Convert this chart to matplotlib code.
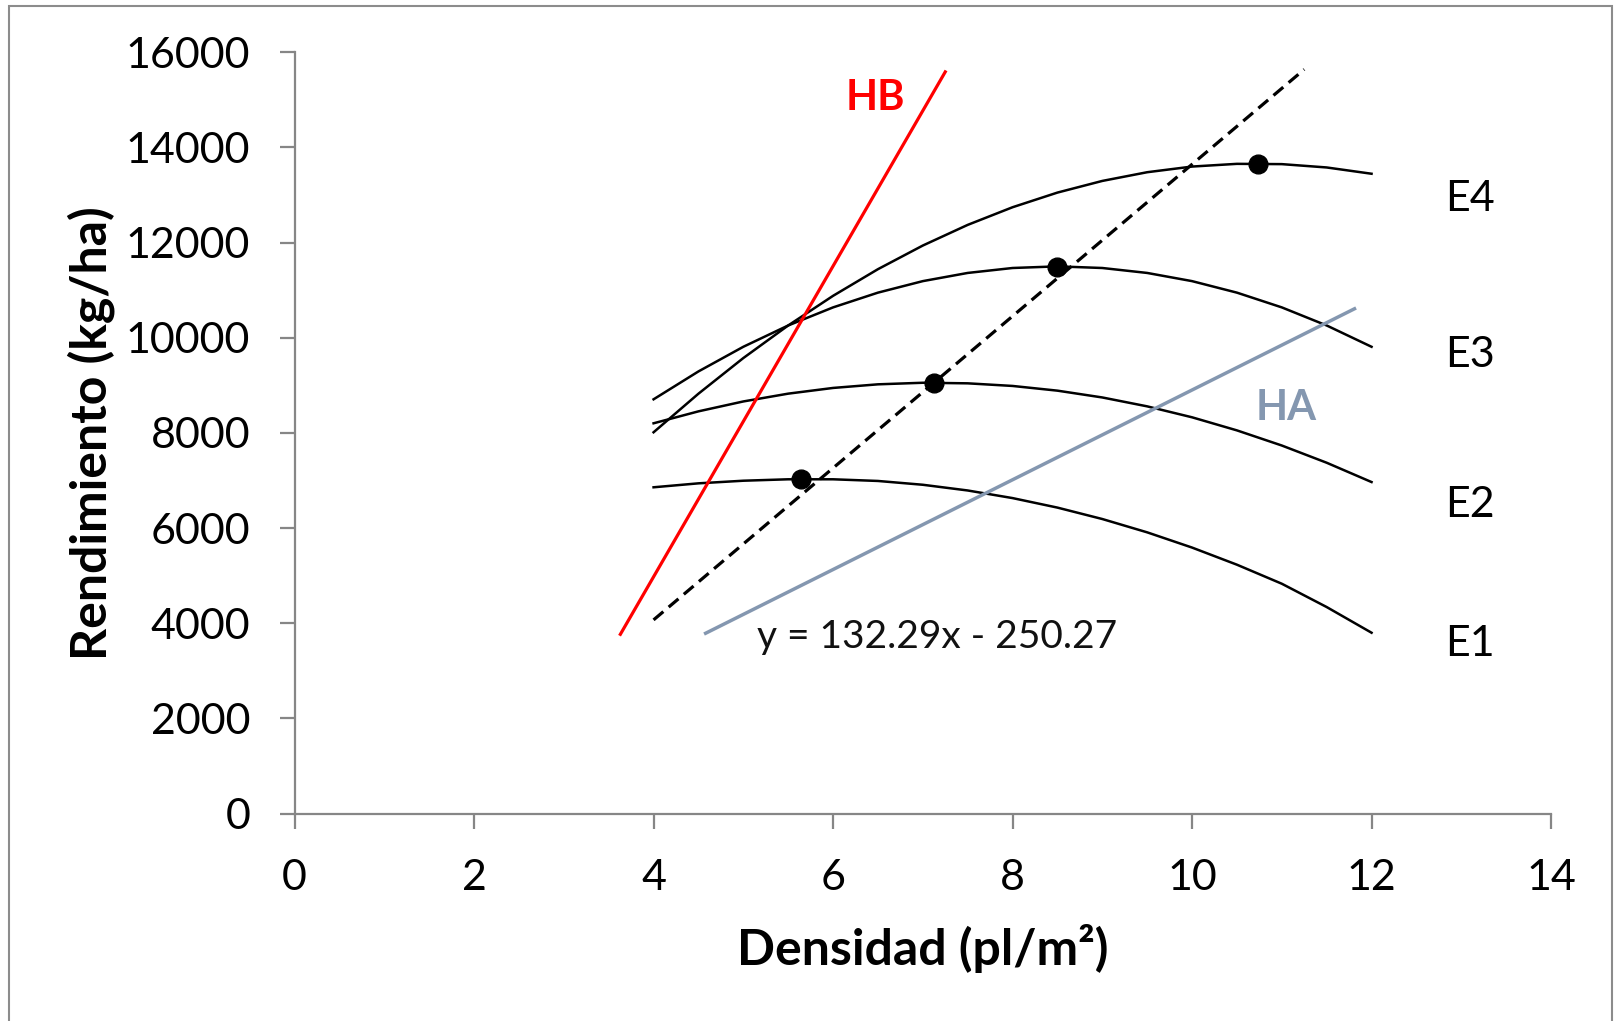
import numpy as np
import matplotlib
matplotlib.use("Agg")
import matplotlib.pyplot as plt
from matplotlib.patches import Rectangle

plt.rcParams['font.family'] = ['Lato', 'DejaVu Sans']

# densidad (pl/m2)
dens = [4, 4.5, 5, 5.5, 6, 6.5, 7, 7.5, 8, 8.5, 9, 9.5, 10, 10.5, 11, 11.5, 12]
# rendimiento por ambiente
e1 = [6857, 6940, 6995, 7025, 7025, 6990, 6910, 6790, 6630, 6430, 6190, 5910, 5590, 5230, 4830, 4340, 3800]
e2 = [8202, 8453, 8661, 8825, 8945, 9021, 9054, 9042, 8987, 8888, 8745, 8558, 8328, 8053, 7735, 7373, 6967]
e3 = [8706, 9292, 9810, 10258, 10638, 10948, 11190, 11362, 11466, 11500, 11466, 11362, 11190, 10948, 10638, 10258, 9810]
e4 = [8013, 8824, 9573, 10258, 10881, 11441, 11938, 12372, 12743, 13051, 13296, 13479, 13598, 13655, 13649, 13579, 13447]

# maximos
max_x = [5.64, 7.12, 8.49, 10.74]
max_y = [7025, 9055, 11494, 13657]

# rectas
opt_x = [4.0, 11.25]
opt_y = [4070, 15640]
hb_x = [3.63, 7.25]
hb_y = [3767, 15588]
ha_x = [4.58, 11.81]
ha_y = [3789, 10609]

labels_e = ['E1', 'E2', 'E3', 'E4']
labels_e_y = [3563, 6485, 9638, 12916]

fig = plt.figure(figsize=(16.15, 10.21), dpi=100)
ax = fig.add_axes([0.1824, 0.2032, 0.7780, 0.7456])

for serie in [e1, e2, e3, e4]:
    ax.plot(dens, serie, color='black', lw=1.8)

ax.plot(opt_x, opt_y, color='black', lw=2.3, ls=(0, (4, 2.2)))
ax.plot(max_x, max_y, 'o', color='black', ms=13.5)
ax.plot(hb_x, hb_y, color='#ff0000', lw=2.3)
ax.plot(ha_x, ha_y, color='#8497b0', lw=2.5)

for lab, yy in zip(labels_e, labels_e_y):
    ax.text(12.82, yy, lab, fontsize=31, ha='left', va='center')

ax.text(6.47, 15040, 'HB', color='#ff0000', fontsize=30, fontweight='bold', ha='center', va='center')
ax.text(11.05, 8523, 'HA', color='#8497b0', fontsize=30, fontweight='bold', ha='center', va='center')
ax.text(5.15, 3720, 'y = 132.29x - 250.27', color='#111111', fontsize=28, ha='left', va='center')

ax.set_xlim(0, 14)
ax.set_ylim(0, 16000)
ax.set_xticks(range(0, 15, 2))
ax.set_yticks(range(0, 16001, 2000))
for s in ['top', 'right']:
    ax.spines[s].set_visible(False)
for s in ['left', 'bottom']:
    ax.spines[s].set_color('#868686')
    ax.spines[s].set_linewidth(1.6)
ax.tick_params(axis='both', direction='out', length=11, width=1.6, color='#868686', labelsize=31)
ax.tick_params(axis='y', pad=21)
ax.tick_params(axis='x', pad=22)

ax.set_xlabel('Densidad (pl/m²)', fontsize=36, fontweight='bold')
ax.set_ylabel('Rendimiento (kg/ha)', fontsize=36, fontweight='bold', va='center')
ax.xaxis.set_label_coords(0.5, -0.145)
ax.yaxis.set_label_coords(-0.162, 0.5)

# borde del grafico
fig.patches.append(Rectangle((9 / 1615, -0.02), 1603 / 1615, 1.02 - 6 / 1021,
                             transform=fig.transFigure, fill=False, edgecolor='#8c8c8c', lw=1.5))

fig.savefig('out.png', dpi=100)
